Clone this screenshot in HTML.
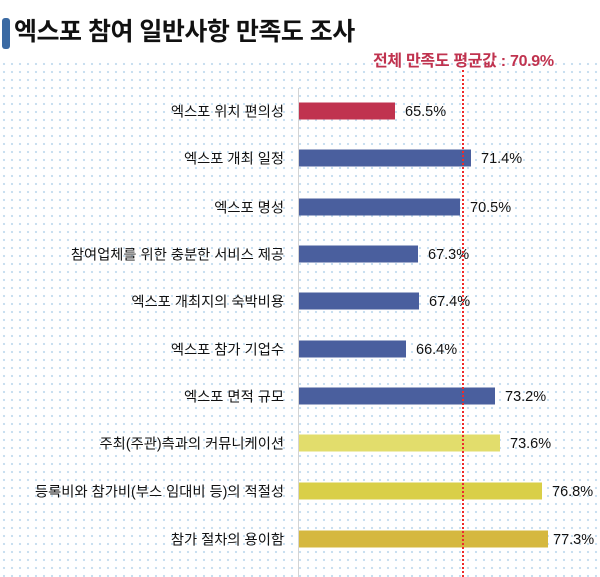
<!DOCTYPE html>
<html><head><meta charset="utf-8"><style>
body{margin:0;width:600px;height:577px;background:#fff;position:relative;overflow:hidden;font-family:"Liberation Sans","Noto Sans CJK KR",sans-serif}
.bg{position:absolute;left:0;top:60px;width:600px;height:517px;background-image:radial-gradient(circle,#c3dcef 0.9px,transparent 1.3px);background-size:8px 8px}
.t{position:absolute;left:14px;top:12px;font-size:25px;font-weight:bold;color:#111;letter-spacing:-0.5px}
.ic{position:absolute;left:2px;top:18px;width:8px;height:31px;background:#3b6aa3;border-radius:3px}
.avg{position:absolute;left:373px;top:47px;font-size:16px;color:#c0334f;font-weight:bold;letter-spacing:-0.3px}
.axis{position:absolute;left:298px;top:88px;width:1px;height:489px;background:#d4d4d4}
.vl{position:absolute;left:462px;top:70px;height:507px;border-left:2.5px dotted #ee2a2a}
.lb{position:absolute;right:316px;font-size:14.3px;color:#111;white-space:nowrap;transform:translateY(-50%)}
.b{position:absolute;left:299px;height:17px;transform:translateY(-50%)}
.v{position:absolute;font-size:14.5px;color:#111;transform:translateY(-50%)}
</style></head><body>
<div class="bg"></div>
<div class="ic"></div><div class="t">엑스포 참여 일반사항 만족도 조사</div>
<div class="avg">전체 만족도 평균값 : 70.9%</div>
<div class="axis"></div>
<div class="lb" style="top:111px">엑스포 위치 편의성</div><div class="b" style="top:111px;width:96px;background:#c0334f"></div><div class="v" style="top:112px;left:405px">65.5%</div>
<div class="lb" style="top:158px">엑스포 개최 일정</div><div class="b" style="top:158px;width:172px;background:#4a5f9e"></div><div class="v" style="top:159px;left:481px">71.4%</div>
<div class="lb" style="top:207px">엑스포 명성</div><div class="b" style="top:207px;width:161px;background:#4a5f9e"></div><div class="v" style="top:208px;left:470px">70.5%</div>
<div class="lb" style="top:254px">참여업체를 위한 충분한 서비스 제공</div><div class="b" style="top:254px;width:119px;background:#4a5f9e"></div><div class="v" style="top:255px;left:428px">67.3%</div>
<div class="lb" style="top:301px">엑스포 개최지의 숙박비용</div><div class="b" style="top:301px;width:120px;background:#4a5f9e"></div><div class="v" style="top:302px;left:429px">67.4%</div>
<div class="lb" style="top:349px">엑스포 참가 기업수</div><div class="b" style="top:349px;width:107px;background:#4a5f9e"></div><div class="v" style="top:350px;left:416px">66.4%</div>
<div class="lb" style="top:396px">엑스포 면적 규모</div><div class="b" style="top:396px;width:196px;background:#4a5f9e"></div><div class="v" style="top:397px;left:505px">73.2%</div>
<div class="lb" style="top:443px">주최(주관)측과의 커뮤니케이션</div><div class="b" style="top:443px;width:201px;background:#e2dd6c"></div><div class="v" style="top:444px;left:510px">73.6%</div>
<div class="lb" style="top:491px">등록비와 참가비(부스 임대비 등)의 적절성</div><div class="b" style="top:491px;width:243px;background:#d9cf48"></div><div class="v" style="top:492px;left:552px">76.8%</div>
<div class="lb" style="top:539px">참가 절차의 용이함</div><div class="b" style="top:539px;width:249px;background:#d5b83f"></div><div class="v" style="top:540px;left:553px">77.3%</div>
<div class="vl"></div>
</body></html>
